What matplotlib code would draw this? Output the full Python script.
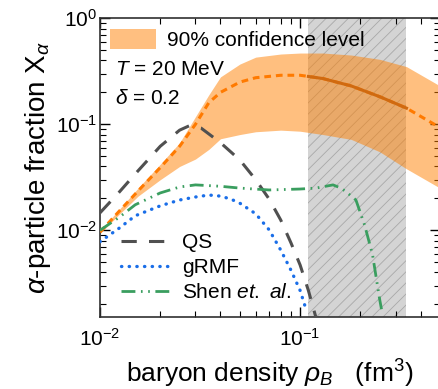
import numpy as np
import matplotlib
matplotlib.use('Agg')
import matplotlib.pyplot as plt
from matplotlib.lines import Line2D
from matplotlib.patches import Patch

plt.rcParams['font.family'] = ['Liberation Sans', 'DejaVu Sans']
plt.rcParams['mathtext.fontset'] = 'custom'
plt.rcParams['mathtext.rm'] = 'Liberation Sans'
plt.rcParams['mathtext.it'] = 'Liberation Sans:italic'
plt.rcParams['hatch.linewidth'] = 0.6

# confidence band and its central line
rho_band = [0.01, 0.0125, 0.0155, 0.02, 0.025, 0.03, 0.035, 0.04, 0.05, 0.06,
            0.08, 0.1, 0.13, 0.18, 0.25, 0.34, 0.5]
band_mid = [0.0096, 0.0152, 0.0235, 0.039, 0.062, 0.10, 0.16, 0.20, 0.25, 0.275,
            0.29, 0.29, 0.27, 0.23, 0.182, 0.142, 0.093]
band_lo = [0.0093, 0.0142, 0.021, 0.030, 0.040, 0.047, 0.058, 0.073, 0.08, 0.085,
           0.088, 0.086, 0.08, 0.072, 0.055, 0.038, 0.025]
band_hi = [0.0099, 0.0158, 0.025, 0.042, 0.067, 0.118, 0.19, 0.28, 0.37, 0.43,
           0.46, 0.47, 0.47, 0.45, 0.41, 0.35, 0.23]

# QS
rho_qs = [0.01, 0.0125, 0.015, 0.02, 0.025, 0.028, 0.032, 0.04, 0.05, 0.06,
          0.07, 0.08, 0.09, 0.1, 0.11, 0.12]
x_qs = [0.0146, 0.023, 0.034, 0.062, 0.088, 0.097, 0.092, 0.067, 0.046, 0.030,
        0.0197, 0.0125, 0.0076, 0.0047, 0.0027, 0.0015]

# gRMF
rho_grmf = [0.01, 0.0125, 0.015, 0.02, 0.025, 0.03, 0.035, 0.04, 0.045, 0.05,
            0.06, 0.07, 0.08, 0.09, 0.1, 0.108]
x_grmf = [0.0078, 0.0105, 0.0137, 0.017, 0.0193, 0.0206, 0.0215, 0.021, 0.0197,
          0.018, 0.0143, 0.0101, 0.0065, 0.0042, 0.0027, 0.0017]

# Shen et al.
rho_shen = [0.01, 0.0125, 0.015, 0.02, 0.025, 0.03, 0.04, 0.05, 0.07, 0.1,
            0.12, 0.146, 0.16, 0.17, 0.19, 0.21, 0.23, 0.25, 0.255]
x_shen = [0.010, 0.0133, 0.0174, 0.0225, 0.0256, 0.0268, 0.026, 0.025, 0.024,
          0.0245, 0.025, 0.0268, 0.025, 0.023, 0.0193, 0.0112, 0.0059, 0.0022, 0.0018]

excl_lo, excl_hi = 0.11, 0.34

fig = plt.figure(figsize=(4.38, 3.89), dpi=100)
ax = fig.add_axes([0.2283, 0.1859, 0.7763, 0.7671])

ax.axvspan(excl_lo, excl_hi, facecolor='#d4d4d4', edgecolor='#a8a8a8',
           hatch='///', lw=0, zorder=1)
ax.fill_between(rho_band, band_lo, band_hi, color='#ff8000', alpha=0.5,
                lw=0, zorder=2)

rb = np.array(rho_band)
bm = np.array(band_mid)
inside = (rb >= excl_lo) & (rb <= excl_hi)
ax.plot(rb, bm, color='#ff7a00', lw=2.2, ls=(0, (2.2, 1.6)), zorder=3)
ax.plot(np.r_[excl_lo, rb[inside], excl_hi],
        np.exp(np.interp(np.log([excl_lo] + list(rb[inside]) + [excl_hi]),
                         np.log(rb), np.log(bm))),
        color='#d06a10', lw=2.2, zorder=4)

ax.plot(rho_qs, x_qs, color='#505050', lw=2.2, ls=(0, (5, 4)), zorder=5)
ax.plot(rho_grmf, x_grmf, color='#1a6ee8', lw=2.4, ls=(0, (0.1, 2.2)),
        dash_capstyle='round', zorder=5)
ax.plot(rho_shen, x_shen, color='#3a9e5f', lw=2.0,
        ls=(0, (5, 2, 0.6, 2, 0.6, 2)), zorder=5)

ax.set_xscale('log')
ax.set_yscale('log')
ax.set_xlim(0.01, 0.5)
ax.set_ylim(1.53e-3, 1)

ax.tick_params(which='both', direction='in', top=True, right=True,
               labelsize=15, pad=2)
ax.tick_params(which='major', length=7, width=1)
ax.tick_params(which='minor', length=4, width=0.8)
ax.tick_params(axis='x', pad=8)
for s in ax.spines.values():
    s.set_linewidth(1.2)
    s.set_color('#303030')

ax.set_xlabel(r'baryon density $\rho_B$   (fm$^3$)', fontsize=19, labelpad=6)
ax.set_ylabel(r'$\alpha$-particle fraction X$_\alpha$', fontsize=20, labelpad=2)

band_leg = ax.legend(handles=[Patch(facecolor='#ffbf80', edgecolor='none')],
                     labels=['90% confidence level'], loc='upper left',
                     frameon=False, fontsize=15, handlelength=2.2,
                     handleheight=1.1, handletextpad=0.5,
                     borderaxespad=0.3, borderpad=0.2)
ax.add_artist(band_leg)

ax.text(0.045, 0.83, r'$T$ = 20 MeV', transform=ax.transAxes, fontsize=15,
        va='center')
ax.text(0.045, 0.73, r'$\delta$ = 0.2', transform=ax.transAxes, fontsize=15,
        va='center')

handles = [Line2D([], [], color='#505050', lw=2.2, ls=(0, (5, 4))),
           Line2D([], [], color='#1a6ee8', lw=2.4, ls=(0, (0.1, 2.2)),
                  dash_capstyle='round'),
           Line2D([], [], color='#3a9e5f', lw=2.0,
                  ls=(0, (5, 2, 0.6, 2, 0.6, 2)))]
ax.legend(handles=handles, labels=['QS', 'gRMF', r'Shen $et.$ $al.$'],
          loc='lower left', frameon=False, fontsize=15, handlelength=2.4,
          handletextpad=0.5, labelspacing=0.28, borderaxespad=0.3,
          bbox_to_anchor=(0.02, 0.0))

fig.savefig('out.png', dpi=100)
